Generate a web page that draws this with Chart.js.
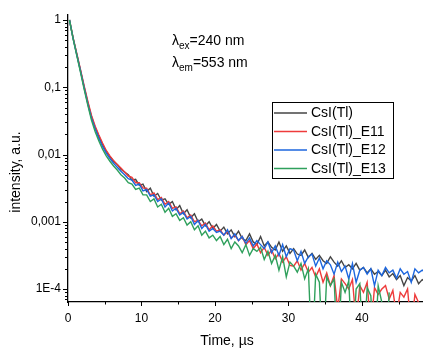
<!DOCTYPE html>
<html lang="en">
<head>
  <meta charset="UTF-8">
  <title>CsI(Tl) decay</title>
  <script src="https://cdn.jsdelivr.net/npm/chart.js"></script>
  <style>
    body { margin: 0; background: #fff; }
    canvas { display: block; }
  </style>
</head>
<body>
  <canvas id="decay" width="423" height="351"></canvas>

  <script>
    // time grid, µs (first point and step of the recorded channels)
    const T_START = 0.2;
    const T_STEP = 0.5;

    // log10(intensity), one value per time step
    const logCsI = [
      0, -0.27, -0.51, -0.75, -1.0, -1.23, -1.44, -1.6, -1.73, -1.85,
      -1.95, -2.03, -2.1, -2.15, -2.22, -2.26, -2.3, -2.38, -2.37, -2.46,
      -2.44, -2.55, -2.5, -2.62, -2.58, -2.68, -2.66, -2.74, -2.7, -2.82,
      -2.76, -2.88, -2.82, -2.94, -2.88, -3.0, -2.96, -3.06, -3.0, -3.1,
      -3.04, -3.14, -3.08, -3.18, -3.12, -3.22, -3.14, -3.25, -3.28, -3.18,
      -3.3, -3.34, -3.22, -3.36, -3.3, -3.38, -3.42, -3.3, -3.44, -3.36,
      -3.47, -3.4, -3.48, -3.5, -3.42, -3.53, -3.47, -3.56, -3.5, -3.58,
      -3.62, -3.52, -3.6, -3.66, -3.58, -3.68, -3.64, -3.7, -3.62, -3.72,
      -3.68, -3.76, -3.7, -3.78, -3.74, -3.8, -3.72, -3.82, -3.77, -3.86,
      -3.8, -3.95, -3.83, -3.88, -3.8, -3.92, -3.86, -3.9
    ];
    const logE11 = [
      0, -0.27, -0.5, -0.74, -0.98, -1.21, -1.42, -1.58, -1.71, -1.83,
      -1.94, -2.02, -2.09, -2.15, -2.2, -2.26, -2.32, -2.34, -2.42, -2.42,
      -2.5, -2.5, -2.6, -2.57, -2.67, -2.64, -2.74, -2.7, -2.8, -2.78,
      -2.88, -2.84, -2.94, -2.9, -3.0, -2.98, -3.06, -3.02, -3.12, -3.06,
      -3.14, -3.12, -3.2, -3.14, -3.24, -3.2, -3.28, -3.22, -3.34, -3.28,
      -3.4, -3.33, -3.46, -3.38, -3.5, -3.42, -3.55, -3.47, -3.6, -3.52,
      -3.65, -3.66, -3.58, -3.72, -3.62, -3.75, -3.68, -3.82, -3.7, -3.9,
      -3.76, -3.95, -3.8, -4.3, -3.85, -3.92, -4.0, -3.86, -4.5, -3.95,
      -4.05, -3.9, -4.6, -3.98, -4.08, -4.0, -3.95, -4.15, -4.02, -4.4,
      -4.05, -4.12, -4.0, -4.6, -4.08, -4.2, -4.5, -4.1
    ];
    const logE12 = [
      0, -0.28, -0.52, -0.76, -1.01, -1.25, -1.46, -1.62, -1.76, -1.88,
      -1.98, -2.06, -2.13, -2.19, -2.25, -2.3, -2.36, -2.38, -2.46, -2.44,
      -2.54, -2.52, -2.62, -2.6, -2.7, -2.66, -2.78, -2.72, -2.84, -2.8,
      -2.9, -2.86, -2.96, -2.92, -3.04, -2.98, -3.1, -3.04, -3.14, -3.1,
      -3.16, -3.14, -3.2, -3.12, -3.25, -3.18, -3.28, -3.22, -3.32, -3.24,
      -3.36, -3.28, -3.34, -3.4, -3.3, -3.46, -3.36, -3.5, -3.34, -3.52,
      -3.4, -3.42, -3.58, -3.44, -3.62, -3.52, -3.48, -3.66, -3.54, -3.7,
      -3.58, -3.64, -3.78, -3.6, -3.74, -3.66, -3.85, -3.62, -3.9, -3.72,
      -3.68, -3.78, -3.7, -3.95, -3.72, -3.8, -3.68, -3.76, -3.72, -3.84,
      -3.7, -3.78, -3.74, -3.9, -3.7, -3.76, -3.72, -3.75
    ];
    const logE13 = [
      0, -0.28, -0.53, -0.78, -1.03, -1.27, -1.49, -1.66, -1.8, -1.92,
      -2.02, -2.1, -2.17, -2.23, -2.3, -2.35, -2.42, -2.44, -2.52, -2.5,
      -2.6, -2.6, -2.7, -2.66, -2.78, -2.74, -2.86, -2.8, -2.92, -2.88,
      -2.98, -2.94, -3.05, -3.0, -3.12, -3.06, -3.2, -3.14, -3.24, -3.2,
      -3.28, -3.22, -3.34, -3.26, -3.4, -3.3, -3.36, -3.46, -3.34, -3.5,
      -3.4, -3.44, -3.38, -3.56, -3.44, -3.62, -3.5, -3.72, -3.52, -3.82,
      -3.6, -3.66, -3.75, -3.62, -3.85, -3.7, -5, -3.78, -3.9, -5,
      -3.82, -3.95, -3.85, -5, -3.9, -4.05, -3.88, -5, -4.0, -3.92,
      -5, -3.98, -4.1, -5, -3.95, -4.2, -5, -4.05
    ];

    const seriesNames = ["CsI(Tl)", "CsI(Tl)_E11", "CsI(Tl)_E12", "CsI(Tl)_E13"];
    const seriesLogs = [logCsI, logE11, logE12, logE13];
    const seriesColors = ["#454545", "#ee3b3b", "#1c66de", "#2fa05c"];

    const yLabels = { "0": "1", "-1": "0,1", "-2": "0,01", "-3": "0,001", "-4": "1E-4" };
    const xTickValues = [0, 10, 20, 30, 40];

    const FONT = "Arial, 'Liberation Sans', sans-serif";

    function toPoints(logs) {
      return logs.map((v, i) => ({ x: T_START + i * T_STEP, y: Math.pow(10, v) }));
    }

    function isPow10(v) {
      const l = Math.log10(v);
      return Math.abs(l - Math.round(l)) < 1e-6;
    }

    // ticks, titles, note and legend drawn by hand
    const decor = {
      id: "decor",
      afterDraw(chart) {
        const ctx = chart.ctx;
        const xs = chart.scales.x, ys = chart.scales.y;
        const area = chart.chartArea;
        ctx.save();
        ctx.strokeStyle = "#000";
        ctx.lineWidth = 1;

        // y ticks, outward
        for (let e = -5; e <= 0; e++) {
          for (let m = 1; m <= 9; m++) {
            const v = m * Math.pow(10, e);
            if (v < ys.min || v > ys.max) continue;
            const py = Math.round(ys.getPixelForValue(v)) + 0.5;
            const len = m === 1 ? 5 : 3;
            ctx.beginPath();
            ctx.moveTo(area.left, py);
            ctx.lineTo(area.left - len, py);
            ctx.stroke();
          }
        }
        // x ticks, outward
        for (let t = 0; t <= xs.max; t += 5) {
          const px = Math.round(xs.getPixelForValue(t)) + 0.5;
          const len = t % 10 === 0 ? 4 : 2.5;
          ctx.beginPath();
          ctx.moveTo(px, area.bottom);
          ctx.lineTo(px, area.bottom + len);
          ctx.stroke();
        }

        ctx.fillStyle = "#000";
        // axis titles
        ctx.font = "14px " + FONT;
        ctx.textAlign = "center";
        ctx.textBaseline = "alphabetic";
        ctx.fillText("Time, \u00b5s", 227, 345);
        ctx.save();
        ctx.translate(20, 172);
        ctx.rotate(-Math.PI / 2);
        ctx.fillText("intensity, a.u.", 0, 0);
        ctx.restore();

        // excitation / emission note
        const note = [["ex", "=240 nm", 45], ["em", "=553 nm", 67]];
        ctx.textAlign = "left";
        note.forEach(([sub, rest, base]) => {
          let x = 172;
          ctx.font = "14px " + FONT;
          ctx.fillText("\u03bb", x, base);
          x += ctx.measureText("\u03bb").width;
          ctx.font = "10px " + FONT;
          ctx.fillText(sub, x, base + 4);
          x += ctx.measureText(sub).width;
          ctx.font = "14px " + FONT;
          ctx.fillText(rest, x, base);
        });

        // legend
        ctx.lineWidth = 1;
        ctx.strokeRect(272.5, 102.5, 121, 76);
        ctx.font = "14px " + FONT;
        ctx.textBaseline = "middle";
        seriesNames.forEach((name, i) => {
          const y = 113 + i * 18.5;
          ctx.strokeStyle = seriesColors[i];
          ctx.lineWidth = 1.3;
          ctx.beginPath();
          ctx.moveTo(274, y);
          ctx.lineTo(307, y);
          ctx.stroke();
          ctx.fillStyle = "#000";
          ctx.fillText(name, 311, y + 0.5);
        });
        ctx.restore();
      }
    };

    new Chart(document.getElementById("decay"), {
      type: "line",
      data: {
        datasets: seriesNames.map((name, i) => ({
          label: name,
          data: toPoints(seriesLogs[i]),
          borderColor: seriesColors[i],
          borderWidth: 1.4,
          pointRadius: 0,
          tension: 0,
          fill: false,
          order: 3 - i
        }))
      },
      options: {
        responsive: false,
        animation: false,
        devicePixelRatio: 1,
        layout: { padding: { top: 15, right: 0, left: 0, bottom: 0 } },
        plugins: { legend: { display: false }, tooltip: { enabled: false } },
        scales: {
          x: {
            type: "linear",
            min: 0,
            max: 48.3,
            afterFit: s => { s.height = 49; },
            grid: { display: false, drawTicks: false },
            border: { display: true, color: "#000", width: 1.3 },
            ticks: {
              autoSkip: false,
              includeBounds: false,
              stepSize: 10,
              padding: 9,
              color: "#000",
              font: { family: FONT, size: 12 },
              callback: v => xTickValues.includes(v) ? String(v) : ""
            }
          },
          y: {
            type: "logarithmic",
            min: 6.41e-5,
            max: 1.187,
            afterFit: s => { s.width = 68; },
            grid: { display: false, drawTicks: false },
            border: { display: true, color: "#000", width: 1.3 },
            ticks: {
              autoSkip: false,
              padding: 7,
              color: "#000",
              font: { family: FONT, size: 12 },
              callback: v => isPow10(v) ? (yLabels[String(Math.round(Math.log10(v)))] || "") : ""
            }
          }
        }
      },
      plugins: [decor]
    });
  </script>
</body>
</html>
